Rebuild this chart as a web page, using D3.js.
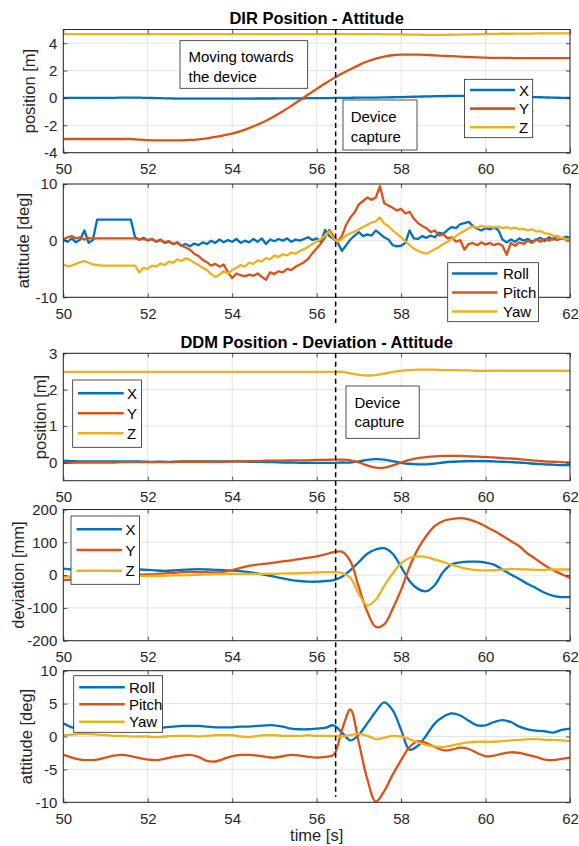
<!DOCTYPE html>
<html>
<head>
<meta charset="utf-8">
<script src="https://cdn.jsdelivr.net/npm/d3@7"></script>
<style>
  body { margin: 0; background: #fff; }
  svg { display: block; font-family: "Liberation Sans", Arial, sans-serif; }
</style>
</head>
<body>
<div id="chart"></div>
<script>
// ---- Data ----
const xyzNames = ['X', 'Y', 'Z'];
const rpyNames = ['Roll', 'Pitch', 'Yaw'];
const timeTicks = [50, 52, 54, 56, 58, 60, 62];
const captureTime = 56.45;

// coarse grid (0.2 s)
const time02 = [
  50.0, 50.2, 50.4, 50.6, 50.8, 51.0, 51.2, 51.4, 51.6, 51.8,
  52.0, 52.2, 52.4, 52.6, 52.8, 53.0, 53.2, 53.4, 53.6, 53.8,
  54.0, 54.2, 54.4, 54.6, 54.8, 55.0, 55.2, 55.4, 55.6, 55.8,
  56.0, 56.2, 56.4, 56.6, 56.8, 57.0, 57.2, 57.4, 57.6, 57.8,
  58.0, 58.2, 58.4, 58.6, 58.8, 59.0, 59.2, 59.4, 59.6, 59.8,
  60.0, 60.2, 60.4, 60.6, 60.8, 61.0, 61.2, 61.4, 61.6, 61.8,
  62.0
];

// fine grid (0.1 s) for the noisy DIR attitude
const time01 = [
  50.0, 50.1, 50.2, 50.3, 50.4, 50.5, 50.6, 50.7, 50.8, 50.9,
  51.0, 51.1, 51.2, 51.3, 51.4, 51.5, 51.6, 51.7, 51.8, 51.9,
  52.0, 52.1, 52.2, 52.3, 52.4, 52.5, 52.6, 52.7, 52.8, 52.9,
  53.0, 53.1, 53.2, 53.3, 53.4, 53.5, 53.6, 53.7, 53.8, 53.9,
  54.0, 54.1, 54.2, 54.3, 54.4, 54.5, 54.6, 54.7, 54.8, 54.9,
  55.0, 55.1, 55.2, 55.3, 55.4, 55.5, 55.6, 55.7, 55.8, 55.9,
  56.0, 56.1, 56.2, 56.3, 56.4, 56.5, 56.6, 56.7, 56.8, 56.9,
  57.0, 57.1, 57.2, 57.3, 57.4, 57.5, 57.6, 57.7, 57.8, 57.9,
  58.0, 58.1, 58.2, 58.3, 58.4, 58.5, 58.6, 58.7, 58.8, 58.9,
  59.0, 59.1, 59.2, 59.3, 59.4, 59.5, 59.6, 59.7, 59.8, 59.9,
  60.0, 60.1, 60.2, 60.3, 60.4, 60.5, 60.6, 60.7, 60.8, 60.9,
  61.0, 61.1, 61.2, 61.3, 61.4, 61.5, 61.6, 61.7, 61.8, 61.9,
  62.0
];

// DIR position [m]
const dirPosX = [
  0.0, 0.0, 0.0, 0.0, 0.01, 0.01, 0.01, 0.02, 0.03, 0.02,
  0.0, -0.01, -0.03, -0.04, -0.05, -0.05, -0.05, -0.05, -0.05, -0.05,
  -0.05, -0.05, -0.05, -0.04, -0.04, -0.04, -0.03, -0.03, -0.03, -0.02,
  -0.02, -0.01, 0.0, 0.0, 0.01, 0.02, 0.02, 0.03, 0.04, 0.05,
  0.06, 0.08, 0.1, 0.11, 0.13, 0.14, 0.15, 0.15, 0.15, 0.15,
  0.15, 0.14, 0.13, 0.12, 0.1, 0.08, 0.06, 0.04, 0.02, 0.01,
  0.0
];
const dirPosY = [
  -3.0, -3.0, -3.0, -3.0, -3.0, -3.0, -3.0, -3.0, -3.0, -3.05,
  -3.08, -3.1, -3.1, -3.1, -3.1, -3.07, -3.02, -2.95, -2.85, -2.73,
  -2.6, -2.42, -2.2, -1.95, -1.66, -1.33, -0.97, -0.58, -0.17, 0.25,
  0.66, 1.06, 1.43, 1.78, 2.1, 2.4, 2.66, 2.87, 3.02, 3.12,
  3.16, 3.17, 3.16, 3.14, 3.11, 3.08, 3.05, 3.02, 2.99, 2.96,
  2.94, 2.93, 2.92, 2.92, 2.91, 2.91, 2.91, 2.91, 2.91, 2.91,
  2.91
];
const dirPosZ = [
  4.66, 4.66, 4.66, 4.66, 4.66, 4.66, 4.66, 4.66, 4.66, 4.66,
  4.66, 4.66, 4.66, 4.66, 4.66, 4.66, 4.66, 4.66, 4.66, 4.66,
  4.66, 4.66, 4.66, 4.66, 4.66, 4.66, 4.66, 4.66, 4.66, 4.66,
  4.66, 4.66, 4.66, 4.66, 4.66, 4.66, 4.66, 4.66, 4.65, 4.65,
  4.64, 4.63, 4.62, 4.61, 4.61, 4.61, 4.62, 4.63, 4.64, 4.66,
  4.67, 4.68, 4.69, 4.69, 4.7, 4.7, 4.71, 4.71, 4.72, 4.72,
  4.72
];

// DIR attitude [deg]
const dirRoll = [
  0.3, -0.2, 0.4, -0.3, 0.2, 1.8, -0.4, 0.1, 3.7, 3.7,
  3.7, 3.7, 3.7, 3.7, 3.7, 3.7, 3.7, 0.6, 0.2, 0.5,
  0.0, 0.3, -0.2, 0.1, -0.4, -0.2, -0.6, -0.3, -0.9, -0.6,
  -1.0, -0.5, -0.8, -0.3, -0.6, 0.0, -0.4, 0.2, -0.3, 0.1,
  -0.2, 0.3, -0.4, 0.0, -0.3, 0.3, -0.2, 0.4, -0.6, 0.2,
  -0.1, 0.3, 0.0, 0.4, -0.2, 0.2, 0.0, 0.3, 0.6, 0.1,
  0.4, -0.2, 1.9, 0.8, 0.3, -0.4, -1.8, -0.8, 0.2, 0.9,
  1.5, 0.8, 1.1, 0.9, 1.8, 1.2, 0.6, 0.2, -0.8, -1.0,
  -0.9, -0.4, 1.8, 0.4, 0.3, 0.8, 0.5, 0.9, 0.6, 1.4,
  1.2, 1.9, 2.4, 2.2, 2.9, 3.1, 3.3, 2.6, 2.1, 1.8,
  2.2, 2.0, 2.3, 1.9, 0.2, -0.3, 0.2, -0.2, 0.4, 0.0,
  0.3, -0.2, 0.2, 0.5, -0.1, 0.6, 0.2, 0.8, 0.3, 0.7,
  0.5
];
const dirPitch = [
  0.2, 0.6, 0.8, 0.4, 0.6, 0.2, 0.5, 0.3, 0.4, 0.4,
  0.4, 0.4, 0.4, 0.4, 0.4, 0.4, 0.4, 0.4, 0.2, 0.3,
  0.1, 0.3, -0.1, 0.2, -0.3, -0.1, -0.6, -0.4, -0.9, -1.2,
  -1.6, -2.3, -2.7, -3.4, -3.8, -4.4, -4.1, -4.6, -4.2, -5.6,
  -6.6, -5.8, -6.1, -6.3, -6.0, -6.2, -5.8, -6.4, -6.9, -5.6,
  -5.9, -5.4, -5.6, -5.0, -5.2, -4.6, -4.2, -3.8, -3.2, -2.2,
  -1.4, -0.5, 0.6, 1.9, 0.8, -0.2, 0.9, 2.8, 4.1, 5.0,
  6.4, 7.0, 7.6, 7.2, 7.6, 9.6, 6.6, 6.2, 5.8, 5.3,
  5.6, 4.8, 5.1, 3.9, 3.1, 2.6, 2.2, 1.5, 1.8, 0.9,
  1.1, 0.4, 0.6, -0.2, 0.1, -1.6, -0.6, -0.4, -0.8, -0.3,
  -0.7, -0.4, -0.8, -0.5, -0.9, -2.5, -0.4, -0.9, -0.3, -0.6,
  0.0, -0.4, 0.2, -0.2, 0.3, 0.0, 0.4, 0.1, 0.5, 0.2,
  0.3
];
const dirYaw = [
  -4.2, -4.5, -4.4, -4.1, -3.8, -3.6, -3.9, -4.2, -4.3, -4.4,
  -4.4, -4.4, -4.4, -4.4, -4.4, -4.4, -4.4, -4.4, -5.6, -4.8,
  -5.0, -4.4, -4.6, -4.0, -4.3, -3.7, -3.9, -3.3, -3.6, -3.1,
  -3.4, -3.9, -4.3, -4.8, -5.2, -5.9, -6.4, -6.0, -5.4, -5.8,
  -5.2, -4.8, -4.3, -4.6, -3.9, -4.1, -3.5, -3.7, -3.1, -3.3,
  -2.6, -2.9, -2.4, -2.6, -2.1, -2.3, -1.8, -1.5, -1.1, -0.6,
  -0.2, 0.3, 0.9, 1.6, 0.4, -0.2, 0.3, 0.9, 1.3, 1.6,
  2.0, 2.4, 2.8, 3.2, 3.4, 4.1, 3.0, 2.6, 1.8, 1.2,
  0.6, -0.1, -0.8, -1.4, -1.8, -2.1, -2.3, -1.9, -1.5, -1.1,
  -0.6, -0.2, 0.3, 0.8, 1.3, 1.7, 2.2, 2.5, 2.3, 2.6,
  2.4, 2.5, 2.3, 2.5, 2.2, 2.4, 2.1, 2.3, 2.0, 2.1,
  1.8, 2.0, 1.6, 1.7, 1.3, 1.2, 0.9, 0.7, 0.5, 0.3,
  0.2
];

// DDM position [m]
const ddmPosX = [
  0.05, 0.04, 0.03, 0.03, 0.03, 0.03, 0.03, 0.03, 0.03, 0.03,
  0.02, 0.02, 0.02, 0.02, 0.03, 0.03, 0.03, 0.03, 0.03, 0.03,
  0.03, 0.03, 0.02, 0.02, 0.01, 0.01, 0.0, 0.0, -0.01, -0.01,
  -0.01, -0.01, -0.01, 0.0, 0.0, 0.03, 0.07, 0.09, 0.08, 0.04,
  -0.01, -0.04, -0.05, -0.05, -0.03, 0.0, 0.02, 0.03, 0.04, 0.04,
  0.04, 0.03, 0.02, 0.01, 0.0, -0.02, -0.04, -0.05, -0.06, -0.07,
  -0.07
];
const ddmPosY = [
  -0.01, -0.01, 0.0, 0.0, 0.0, 0.0, 0.0, 0.01, 0.01, 0.01,
  0.01, 0.01, 0.01, 0.01, 0.02, 0.02, 0.02, 0.02, 0.02, 0.02,
  0.03, 0.03, 0.04, 0.04, 0.05, 0.05, 0.05, 0.06, 0.06, 0.06,
  0.07, 0.07, 0.08, 0.08, 0.06, 0.0, -0.08, -0.14, -0.14, -0.08,
  0.0, 0.07, 0.12, 0.15, 0.17, 0.18, 0.18, 0.18, 0.17, 0.16,
  0.15, 0.14, 0.12, 0.11, 0.09, 0.07, 0.05, 0.03, 0.02, 0.01,
  0.0
];
const ddmPosZ = [
  2.49, 2.49, 2.49, 2.49, 2.49, 2.49, 2.49, 2.49, 2.49, 2.49,
  2.49, 2.49, 2.49, 2.49, 2.49, 2.49, 2.49, 2.49, 2.49, 2.49,
  2.49, 2.49, 2.49, 2.49, 2.49, 2.49, 2.49, 2.49, 2.49, 2.49,
  2.49, 2.49, 2.49, 2.49, 2.45, 2.41, 2.39, 2.40, 2.44, 2.49,
  2.52, 2.54, 2.55, 2.55, 2.55, 2.54, 2.54, 2.53, 2.53, 2.52,
  2.52, 2.52, 2.52, 2.52, 2.52, 2.52, 2.52, 2.52, 2.52, 2.52,
  2.52
];

// DDM deviation [mm]
const ddmDevX = [
  20, 17, 15, 16, 17, 18, 18, 17, 17, 17,
  16, 14, 13, 14, 16, 17, 18, 17, 16, 15,
  14, 12, 9, 5, 0, -5, -10, -15, -18, -20,
  -20, -18, -15, -5, 15, 40, 65, 78, 82, 65,
  25, -18, -42, -49, -30, 10, 33, 39, 41, 41,
  38, 32, 17, 2, -12, -27, -40, -54, -63, -67,
  -67
];
const ddmDevY = [
  -15, -14, -12, -10, -7, -5, -3, -1, 0, 1,
  2, 3, 5, 7, 9, 10, 10, 9, 8, 10,
  15, 22, 28, 32, 35, 38, 42, 45, 49, 53,
  57, 63, 70, 71, 42, -37, -112, -158, -150, -103,
  -45, 25, 80, 120, 150, 165, 171, 174, 170, 161,
  148, 135, 120, 104, 88, 65, 48, 30, 15, 3,
  -9
];
const ddmDevZ = [
  -5, -5, -6, -6, -5, -5, -4, -4, -3, -3,
  -3, -2, -2, -1, -1, 0, 1, 2, 3, 4,
  4, 4, 4, 4, 4, 4, 5, 5, 6, 7,
  8, 9, 9, 6, -8, -58, -92, -75, -33, 5,
  36, 52, 57, 55, 47, 40, 31, 24, 18, 15,
  14, 15, 17, 18, 18, 17, 16, 16, 17, 17,
  17
];

// DDM attitude [deg]
const ddmRoll = [
  2.0, 1.4, 1.2, 1.2, 1.3, 1.3, 1.5, 1.3, 1.2, 1.1,
  1.1, 1.2, 1.4, 1.5, 1.6, 1.6, 1.6, 1.5, 1.4, 1.4,
  1.4, 1.5, 1.5, 1.6, 1.7, 1.7, 1.5, 1.2, 1.1, 1.1,
  1.2, 1.3, 1.7, 0.6, -0.6, 0.3, 2.0, 3.8, 5.2, 4.0,
  1.0, -2.0, -1.4, 0.2, 2.0, 3.0, 3.5, 3.2, 2.4, 1.7,
  1.7, 2.2, 2.5, 2.2, 1.5, 1.1, 0.9, 0.8, 0.6, 1.0,
  1.2
];
const ddmPitch = [
  -2.8, -3.2, -3.5, -3.6, -3.5, -3.2, -2.9, -2.8, -3.0, -3.3,
  -3.5, -3.6, -3.4, -3.1, -2.9, -2.8, -3.1, -3.7, -3.8, -3.4,
  -3.0, -2.8, -2.8, -2.9, -3.1, -3.2, -3.0, -2.8, -2.9, -3.1,
  -3.2, -3.1, -2.8, 1.0, 4.1, -1.0, -6.5, -9.9, -8.3, -5.8,
  -3.6, -1.6, -0.7, -1.0, -1.6, -2.1, -2.0, -1.7, -1.9, -2.5,
  -3.0, -2.9, -2.6, -2.4, -2.5, -2.8, -3.1, -3.5, -3.6, -3.4,
  -3.2
];
const ddmYaw = [
  0.2, 0.3, 0.4, 0.4, 0.3, 0.2, 0.1, 0.1, 0.0, 0.0,
  0.0, -0.1, 0.0, 0.1, 0.1, 0.1, 0.0, 0.1, 0.2, 0.2,
  0.2, 0.0, -0.1, 0.1, 0.2, 0.2, 0.1, 0.1, 0.1, 0.2,
  0.1, 0.1, 0.1, 0.0, 0.2, 0.4, 0.1, -0.4, -0.2, 0.1,
  0.0, -0.4, -0.9, -1.3, -1.5, -1.6, -1.4, -1.1, -0.9, -0.8,
  -0.8, -0.8, -0.7, -0.6, -0.5, -0.4, -0.4, -0.5, -0.5, -0.6,
  -0.7
];

// ---- Layout ----
const width = 579, height = 846;
const plotLeft = 63.3, plotRight = 570;
const colors = ['#0072BD', '#D95319', '#EDB120'];
const axisColor = '#262626';
const gridColor = '#e3e3e3';

const smooth = d3.curveCatmullRom.alpha(0.5);
const plainNumber = d => String(d);

const panels = [
  {
    top: 29.5, bottom: 152.7, domain: [-4, 5], yTicks: [-4, -2, 0, 2, 4],
    yLabel: 'position [m]', labelX: 29, time: time02, curve: smooth,
    series: [dirPosX, dirPosY, dirPosZ], names: xyzNames,
    legend: { x: 464.4, y: 79.3, w: 68.3, h: 58.4, rows: [90, 108.6, 127.2], lineX: [470, 515], textX: 519 }
  },
  {
    top: 184, bottom: 297.3, domain: [-10, 10], yTicks: [-10, 0, 10],
    yLabel: 'attitude [deg]', labelX: 22.5, time: time01, curve: d3.curveLinear,
    series: [dirRoll, dirPitch, dirYaw], names: rpyNames,
    legend: { x: 447.7, y: 262.7, w: 90.8, h: 59, rows: [273.5, 292.5, 311.5], lineX: [452, 497.5], textX: 503 }
  },
  {
    top: 353.3, bottom: 480.7, domain: [-0.5, 3], yTicks: [0, 1, 2, 3],
    yLabel: 'position [m]', labelX: 40, time: time02, curve: smooth,
    series: [ddmPosX, ddmPosY, ddmPosZ], names: xyzNames,
    legend: { x: 72.7, y: 380, w: 68.8, h: 67.3, rows: [393.3, 413.3, 433.3], lineX: [78, 123.7], textX: 127 }
  },
  {
    top: 509.5, bottom: 640.7, domain: [-200, 200], yTicks: [-200, -100, 0, 100, 200],
    yLabel: 'deviation [mm]', labelX: 17.5, time: time02, curve: smooth,
    series: [ddmDevX, ddmDevY, ddmDevZ], names: xyzNames,
    legend: { x: 71, y: 516, w: 68.6, h: 68.3, rows: [529.3, 550, 570.7], lineX: [76.5, 122], textX: 125.5 }
  },
  {
    top: 670.7, bottom: 802.3, domain: [-10, 10], yTicks: [-10, -5, 0, 5, 10],
    yLabel: 'attitude [deg]', labelX: 26, time: time02, curve: smooth,
    series: [ddmRoll, ddmPitch, ddmYaw], names: rpyNames,
    legend: { x: 73.7, y: 675.7, w: 88.9, h: 56.6, rows: [687.3, 704.3, 721.7], lineX: [79.2, 124.8], textX: 129 }
  }
];

const titles = [
  { text: 'DIR Position - Attitude', y: 18 },
  { text: 'DDM Position - Deviation - Attitude', y: 341.7 }
];

const notes = [
  { lines: ['Moving towards', 'the device'], x: 180, y: 40.7, w: 127.7, h: 47.6, textX: 188.5, rows: [56, 76] },
  { lines: ['Device', 'capture'], x: 343, y: 100, w: 74, h: 50, textX: 350.7, rows: [116, 136] },
  { lines: ['Device', 'capture'], x: 346, y: 386, w: 73.2, h: 52.3, textX: 354.4, rows: [402.3, 421.7] }
];

const captureLines = [
  { y1: 29.5, y2: 323 },
  { y1: 353.3, y2: 797 }
];

// ---- Drawing ----
const svg = d3.select('#chart')
  .append('svg')
  .attr('width', width)
  .attr('height', height);

const x = d3.scaleLinear().domain([50, 62]).range([plotLeft, plotRight]);

panels.forEach((p, i) => {
  const y = d3.scaleLinear().domain(p.domain).range([p.bottom, p.top]);
  const g = svg.append('g');
  const h = p.bottom - p.top;

  // grid
  g.append('g')
    .selectAll('line.vgrid')
    .data(timeTicks)
    .join('line')
    .attr('x1', d => x(d)).attr('x2', d => x(d))
    .attr('y1', p.top).attr('y2', p.bottom)
    .attr('stroke', gridColor).attr('stroke-width', 1);
  g.append('g')
    .selectAll('line.hgrid')
    .data(p.yTicks)
    .join('line')
    .attr('x1', plotLeft).attr('x2', plotRight)
    .attr('y1', d => y(d)).attr('y2', d => y(d))
    .attr('stroke', gridColor).attr('stroke-width', 1);

  // data
  const clipId = 'clip' + i;
  svg.append('clipPath').attr('id', clipId)
    .append('rect')
    .attr('x', plotLeft).attr('y', p.top)
    .attr('width', plotRight - plotLeft).attr('height', h);

  const line = d3.line()
    .x((d, k) => x(p.time[k]))
    .y(d => y(d))
    .curve(p.curve);

  g.append('g')
    .attr('clip-path', `url(#${clipId})`)
    .selectAll('path')
    .data(p.series)
    .join('path')
    .attr('d', d => line(d))
    .attr('fill', 'none')
    .attr('stroke', (d, k) => colors[k])
    .attr('stroke-width', 2.3)
    .attr('stroke-linejoin', 'round');

  // axes
  g.append('g')
    .attr('transform', `translate(0,${p.bottom})`)
    .call(d3.axisBottom(x).tickValues(timeTicks).tickFormat(plainNumber)
      .tickSizeInner(-4).tickSizeOuter(0).tickPadding(11));
  g.append('g')
    .attr('transform', `translate(0,${p.top})`)
    .call(d3.axisTop(x).tickValues(timeTicks).tickSizeInner(-4).tickSizeOuter(0).tickFormat(''));
  g.append('g')
    .attr('transform', `translate(${plotLeft},0)`)
    .call(d3.axisLeft(y).tickValues(p.yTicks).tickFormat(plainNumber)
      .tickSizeInner(-4).tickSizeOuter(0).tickPadding(6));
  g.append('g')
    .attr('transform', `translate(${plotRight},0)`)
    .call(d3.axisRight(y).tickValues(p.yTicks).tickSizeInner(-4).tickSizeOuter(0).tickFormat(''));

  g.selectAll('.domain').remove();
  g.selectAll('.tick line').attr('stroke', axisColor).attr('stroke-width', 0.8);
  g.selectAll('.tick text')
    .attr('fill', axisColor)
    .style('font-size', '15px')
    .style('font-family', '"Liberation Sans", Arial, sans-serif');

  g.append('rect')
    .attr('x', plotLeft).attr('y', p.top)
    .attr('width', plotRight - plotLeft).attr('height', h)
    .attr('fill', 'none')
    .attr('stroke', axisColor)
    .attr('stroke-width', 1);

  // y label
  g.append('text')
    .attr('transform', `translate(${p.labelX},${(p.top + p.bottom) / 2}) rotate(-90)`)
    .attr('text-anchor', 'middle')
    .attr('dominant-baseline', 'central')
    .attr('fill', axisColor)
    .style('font-size', '16.5px')
    .text(p.yLabel);
});

// capture time markers
svg.append('g')
  .selectAll('line')
  .data(captureLines)
  .join('line')
  .attr('x1', x(captureTime)).attr('x2', x(captureTime))
  .attr('y1', d => d.y1).attr('y2', d => d.y2)
  .attr('stroke', '#000')
  .attr('stroke-width', 1.5)
  .attr('stroke-dasharray', '5,3.5');

// legends
panels.forEach(p => {
  const L = p.legend;
  const lg = svg.append('g');
  lg.append('rect')
    .attr('x', L.x).attr('y', L.y)
    .attr('width', L.w).attr('height', L.h)
    .attr('fill', '#fff')
    .attr('stroke', axisColor)
    .attr('stroke-width', 0.8);
  p.names.forEach((n, k) => {
    lg.append('line')
      .attr('x1', L.lineX[0]).attr('x2', L.lineX[1])
      .attr('y1', L.rows[k]).attr('y2', L.rows[k])
      .attr('stroke', colors[k])
      .attr('stroke-width', 2.6);
    lg.append('text')
      .attr('x', L.textX).attr('y', L.rows[k])
      .attr('dominant-baseline', 'central')
      .attr('fill', '#000')
      .style('font-size', '15px')
      .text(n);
  });
});

// annotations
notes.forEach(nt => {
  const ng = svg.append('g');
  ng.append('rect')
    .attr('x', nt.x).attr('y', nt.y)
    .attr('width', nt.w).attr('height', nt.h)
    .attr('fill', '#fff')
    .attr('stroke', axisColor)
    .attr('stroke-width', 0.8);
  nt.lines.forEach((t, k) => {
    ng.append('text')
      .attr('x', nt.textX).attr('y', nt.rows[k])
      .attr('dominant-baseline', 'central')
      .attr('fill', '#000')
      .style('font-size', '15px')
      .text(t);
  });
});

// titles
svg.append('g')
  .selectAll('text')
  .data(titles)
  .join('text')
  .attr('x', (plotLeft + plotRight) / 2)
  .attr('y', d => d.y)
  .attr('text-anchor', 'middle')
  .attr('dominant-baseline', 'central')
  .attr('fill', '#000')
  .style('font-size', '16.5px')
  .style('font-weight', 'bold')
  .text(d => d.text);

// x label
svg.append('text')
  .attr('x', (plotLeft + plotRight) / 2)
  .attr('y', 835)
  .attr('text-anchor', 'middle')
  .attr('dominant-baseline', 'central')
  .attr('fill', axisColor)
  .style('font-size', '16.5px')
  .text('time [s]');
</script>
</body>
</html>
